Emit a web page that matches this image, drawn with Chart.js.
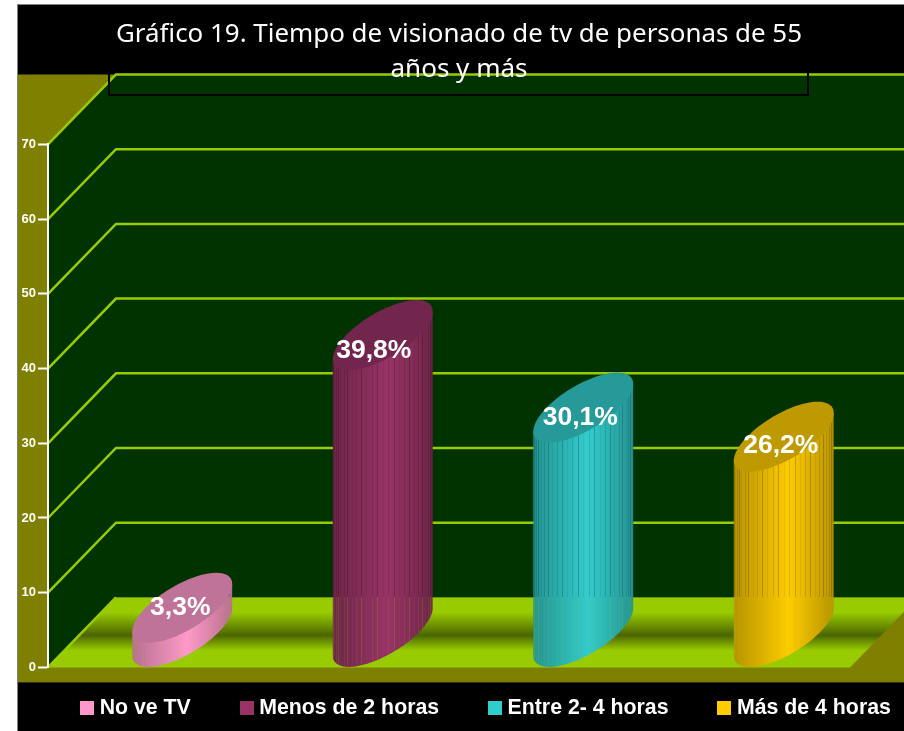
<!DOCTYPE html>
<html>
<head>
<meta charset="utf-8">
<style>html,body{margin:0;padding:0;background:#fff}canvas{display:block}</style>
<script src="https://cdn.jsdelivr.net/npm/chart.js@4"></script>
</head>
<body>
<canvas id="c" width="904" height="731"></canvas>
<script>
const categories = ['No ve TV', 'Menos de 2 horas', 'Entre 2- 4 horas', 'Más de 4 horas'];
const values = [3.3, 39.8, 30.1, 26.2];
const valueLabels = ['3,3%', '39,8%', '30,1%', '26,2%'];
const barColors = ['#FF99CC', '#993366', '#33CCCC', '#FFCC00'];
const titleLines = ['Gráfico 19. Tiempo de visionado de tv de personas de 55', 'años y más'];
const yTicks = [0, 10, 20, 30, 40, 50, 60, 70];

// style constants
const DEPTH_X = 68, DEPTH_Y = 70;
const labelNudge = [[-2, 0], [-9, 16], [-3, 10], [-3, 9]];
const FONT = '"Liberation Sans", Arial, sans-serif';

function shade(hex, k) {
  const n = parseInt(hex.slice(1), 16);
  return `rgb(${Math.round((n >> 16 & 255) * k)},${Math.round((n >> 8 & 255) * k)},${Math.round((n & 255) * k)})`;
}

class CylinderBar extends Chart.BarElement {
  draw(ctx) {
    const { x, y, base, width, options } = this;
    const color = options.backgroundColor;
    const a = width / 2, dx = DEPTH_X / 2, dy = DEPTH_Y / 2;
    const cx = x + dx, half = Math.hypot(a, dx);
    const th0 = Math.atan2(dx, a);
    const pt = (cy, t) => [cx + a * Math.cos(t) + dx * Math.sin(t), cy - dy * Math.sin(t)];
    const topY = y - dy, botY = base - dy;
    const floorY = base - DEPTH_Y;

    ctx.save();
    // body
    const g = ctx.createLinearGradient(cx - half, 0, cx + half, 0);
    g.addColorStop(0, shade(color, 0.72));
    g.addColorStop(0.55, color);
    g.addColorStop(1, shade(color, 0.72));
    ctx.beginPath();
    ctx.moveTo(...pt(topY, th0));
    for (let i = 0; i <= 60; i++) ctx.lineTo(...pt(botY, th0 - Math.PI * i / 60));
    ctx.lineTo(...pt(topY, th0 - Math.PI));
    ctx.closePath();
    ctx.fillStyle = g;
    ctx.fill();
    ctx.save();
    ctx.clip();
    // facets
    const facets = 28;
    ctx.lineWidth = 1;
    for (let i = 1; i < facets; i++) {
      const t = th0 - Math.PI * i / facets;
      const p1 = pt(topY, t), p2 = pt(botY, t);
      const px = Math.round(p1[0]) + 0.5;
      const strong = i % 3 === 0 ? 0.2 : i % 3 === 1 ? 0.12 : 0.06;
      ctx.strokeStyle = `rgba(0,0,0,${strong})`;
      ctx.beginPath();
      ctx.moveTo(px, p1[1]);
      ctx.lineTo(px, Math.min(p2[1], floorY));
      ctx.stroke();
      if (p2[1] > floorY) {
        ctx.strokeStyle = `rgba(153,204,0,${strong})`;
        ctx.beginPath();
        ctx.moveTo(px, Math.max(floorY, p1[1]));
        ctx.lineTo(px, p2[1]);
        ctx.stroke();
      }
    }
    ctx.restore();
    // top cap
    ctx.beginPath();
    for (let i = 0; i <= 72; i++) {
      const p = pt(topY, Math.PI * 2 * i / 72);
      i ? ctx.lineTo(...p) : ctx.moveTo(...p);
    }
    ctx.closePath();
    ctx.fillStyle = shade(color, 0.75);
    ctx.fill();
    ctx.restore();
  }
}
CylinderBar.id = 'cylinderBar';

class CylinderController extends Chart.BarController {}
CylinderController.id = 'cylinder';
CylinderController.defaults = { dataElementType: 'cylinderBar' };
CylinderController.overrides = Chart.BarController.overrides;
Chart.register(CylinderBar, CylinderController);

const scene = {
  id: 'scene',
  afterLayout(chart) {
    const t = chart.titleBlock, l = chart.legend;
    t.left = 116; t.right = 802;
    // keep all four legend entries on one row, placed in the bottom band
    l.maxWidth = 2000;
    l.fit();
    l.left = 31.2;
    l.right = 2000;
    l.top = 643.2;
  },
  beforeDraw(chart) {
    const { ctx, chartArea: ca, scales: { y } } = chart;
    const x0 = ca.left, x1 = ca.right, y0 = y.getPixelForValue(0), yT = y.getPixelForValue(70);
    ctx.save();
    ctx.fillStyle = '#fff';
    ctx.fillRect(0, 0, 904, 731);
    ctx.fillStyle = '#808080';
    ctx.fillRect(17, 4, 887, 727);
    ctx.fillStyle = '#000';
    ctx.fillRect(18, 5, 886, 726);
    // olive frame
    ctx.fillStyle = '#808000';
    ctx.fillRect(18, yT - DEPTH_Y, 886, y0 + 15 - (yT - DEPTH_Y));
    // walls
    ctx.fillStyle = '#003300';
    ctx.beginPath();
    ctx.moveTo(x0, y0);
    ctx.lineTo(x0, yT);
    ctx.lineTo(x0 + DEPTH_X, yT - DEPTH_Y);
    ctx.lineTo(x1 + DEPTH_X, yT - DEPTH_Y);
    ctx.lineTo(x1 + DEPTH_X, y0 - DEPTH_Y);
    ctx.lineTo(x0 + DEPTH_X, y0 - DEPTH_Y);
    ctx.closePath();
    ctx.fill();
    // floor
    const g = ctx.createLinearGradient(0, y0 - DEPTH_Y, 0, y0);
    g.addColorStop(0, '#99CC00');
    g.addColorStop(0.21, '#99CC00');
    g.addColorStop(0.54, '#4C6600');
    g.addColorStop(0.76, '#99CC00');
    g.addColorStop(1, '#99CC00');
    ctx.fillStyle = g;
    ctx.beginPath();
    ctx.moveTo(x0, y0);
    ctx.lineTo(x0 + DEPTH_X, y0 - DEPTH_Y);
    ctx.lineTo(x1 + DEPTH_X, y0 - DEPTH_Y);
    ctx.lineTo(x1, y0);
    ctx.closePath();
    ctx.fill();
    // grid lines on side and back walls
    ctx.strokeStyle = '#99CC00';
    ctx.lineWidth = 2.5;
    yTicks.forEach(v => {
      const py = y.getPixelForValue(v);
      ctx.beginPath();
      ctx.moveTo(x0, py);
      ctx.lineTo(x0 + DEPTH_X, py - DEPTH_Y);
      if (v > 0) ctx.lineTo(x1 + DEPTH_X, py - DEPTH_Y);
      ctx.stroke();
    });
    // empty title frame
    ctx.strokeStyle = '#000';
    ctx.lineWidth = 2;
    ctx.strokeRect(109, 50, 699, 45);
    ctx.restore();
  },
  afterDatasetsDraw(chart) {
    const { ctx } = chart;
    const meta = chart.getDatasetMeta(0);
    ctx.save();
    ctx.fillStyle = '#fff';
    ctx.font = 'bold 26.5px ' + FONT;
    ctx.textAlign = 'center';
    ctx.textBaseline = 'middle';
    meta.data.forEach((el, i) => {
      ctx.fillText(valueLabels[i],
        el.x + DEPTH_X / 2 + labelNudge[i][0],
        el.y - DEPTH_Y / 2 + labelNudge[i][1]);
    });
    ctx.restore();
  }
};

function swatch(color) {
  const s = document.createElement('canvas');
  s.width = 14; s.height = 14;
  const c = s.getContext('2d');
  c.fillStyle = color;
  c.fillRect(0, 0, 14, 14);
  return s;
}

new Chart(document.getElementById('c'), {
  type: 'cylinder',
  data: {
    labels: categories,
    datasets: [{ data: values, backgroundColor: barColors, categoryPercentage: 1, barPercentage: 0.365 }]
  },
  options: {
    responsive: false,
    animation: false,
    layout: { padding: { left: 17, right: 54, top: 17.5, bottom: -96.6 } },
    scales: {
      x: { display: false },
      y: {
        min: 0, max: 70,
        afterFit(s) { s.width = 31; },
        ticks: {
          stepSize: 10, color: '#fff', padding: 2,
          font: { family: FONT, size: 13, weight: 'bold' }
        },
        grid: { drawOnChartArea: false, drawTicks: true, tickColor: '#fff', tickWidth: 2, tickLength: 10 },
        border: { display: true, color: '#fff', width: 2 }
      }
    },
    plugins: {
      title: {
        display: true,
        text: titleLines,
        color: '#fff',
        font: { family: '"Noto Sans", sans-serif', size: 26, weight: 'normal', lineHeight: 1.346 },
        padding: { top: 0, bottom: 57 }
      },
      tooltip: { enabled: false },
      legend: {
        position: 'bottom',
        align: 'start',
        labels: {
          color: '#fff',
          font: { family: FONT, size: 21.3, weight: 'bold' },
          padding: 53.8,
          usePointStyle: true,
          pointStyleWidth: 4,
          generateLabels: () => categories.map((text, i) => ({
            text, index: i, hidden: false, fontColor: '#fff', lineWidth: 0,
            fillStyle: barColors[i], strokeStyle: barColors[i], pointStyle: swatch(barColors[i])
          }))
        }
      }
    }
  },
  plugins: [scene]
});
</script>
</body>
</html>
